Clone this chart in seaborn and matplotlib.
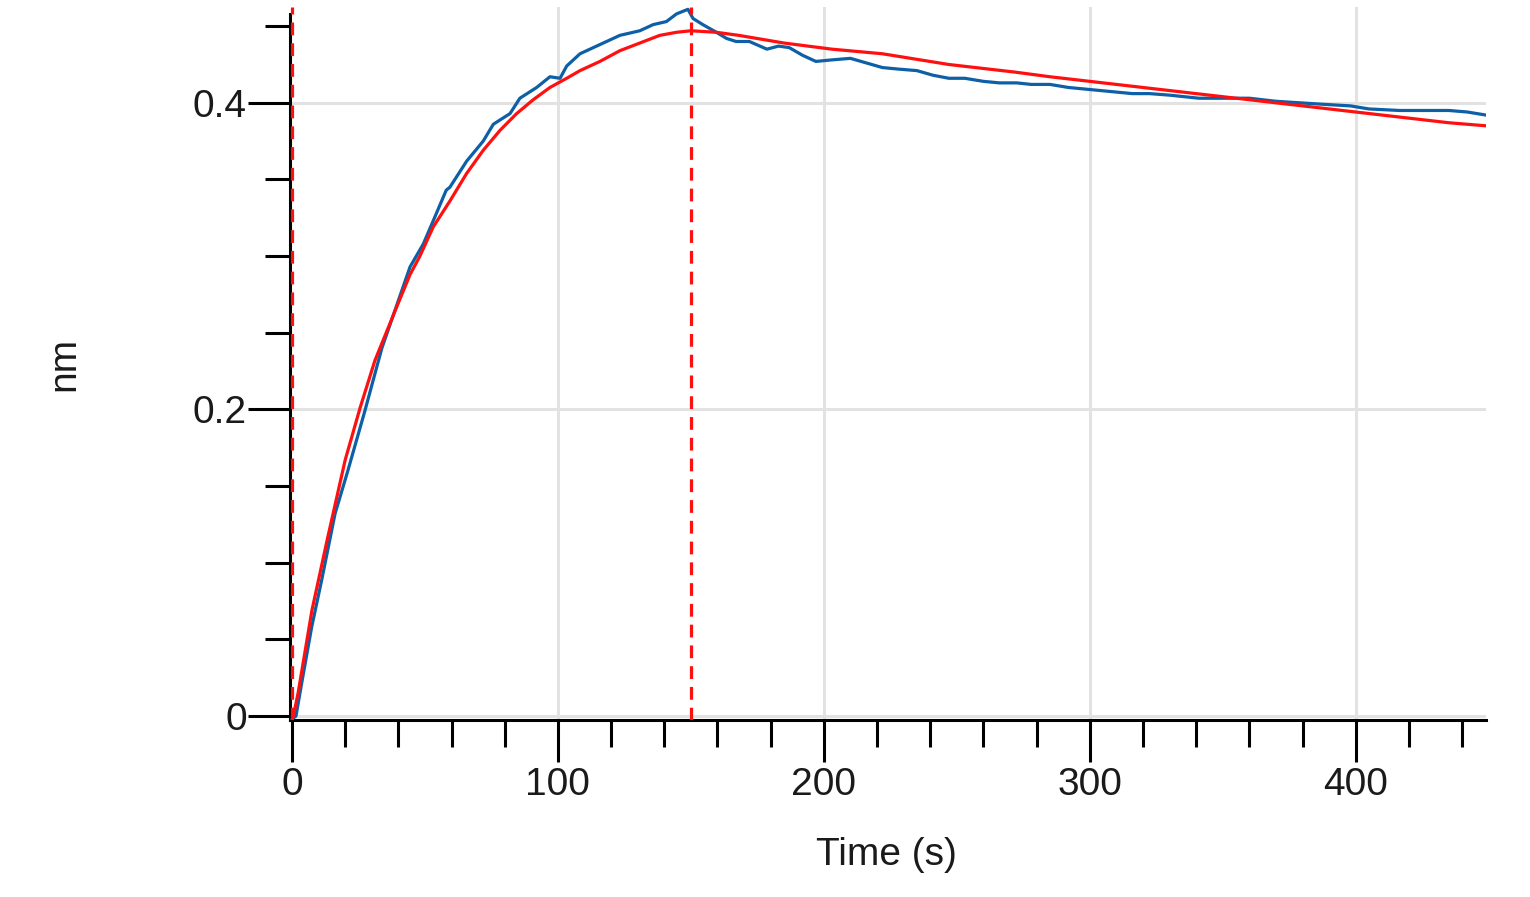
import numpy as np
import pandas as pd
import matplotlib
matplotlib.use("Agg")
import matplotlib.pyplot as plt
import seaborn as sns
from matplotlib.ticker import MultipleLocator, FixedLocator, FuncFormatter

# ---------------- data ----------------
blue_time = [0, 1.5, 3.6, 7.4, 11.2, 16.2, 21, 27.4, 33.8, 40, 44.4, 49.4, 53.1, 58,
             59.4, 65.7, 71.9, 75.7, 82, 85.7, 92, 97, 100.8, 103.3, 108.3, 115.8,
             123.3, 130.8, 135.8, 140.8, 144.6, 148.9, 150.8, 154.5, 159.6, 163.4,
             167, 172, 178.6, 183, 187, 192, 197, 203, 210, 216, 222, 228, 235, 241,
             247, 253, 260, 266, 272.5, 278, 285, 292, 298, 304, 310, 316, 322.5, 330,
             341, 350, 360, 370, 379, 388, 398, 405, 416.5, 425, 435, 442, 449]
blue_signal = [-0.002, 0.000, 0.021, 0.058, 0.089, 0.132, 0.160, 0.199, 0.240, 0.271,
               0.293, 0.308, 0.323, 0.343, 0.345, 0.362, 0.375, 0.386, 0.393, 0.403,
               0.410, 0.417, 0.416, 0.424, 0.432, 0.438, 0.444, 0.447, 0.451, 0.453,
               0.458, 0.461, 0.455, 0.451, 0.446, 0.442, 0.440, 0.440, 0.435, 0.437,
               0.436, 0.431, 0.427, 0.428, 0.429, 0.426, 0.423, 0.422, 0.421, 0.418,
               0.416, 0.416, 0.414, 0.413, 0.413, 0.412, 0.412, 0.410, 0.409, 0.408,
               0.407, 0.406, 0.406, 0.405, 0.403, 0.403, 0.403, 0.401, 0.400, 0.399,
               0.398, 0.396, 0.395, 0.395, 0.395, 0.394, 0.392]

fit_time = [0.5, 2.3, 7.5, 13.5, 20, 25.6, 31.2, 38.7, 44.4, 48.1, 53.1, 59.4, 65.7,
            71.9, 78.2, 84.5, 90.7, 97, 103.3, 108.3, 115.8, 123.3, 130.8, 138.3,
            144.6, 150, 159.6, 168, 185, 203, 222, 247, 272, 285, 310, 335, 360, 385,
            410, 435, 449]
fit_signal = [0.000, 0.015, 0.069, 0.117, 0.167, 0.201, 0.232, 0.264, 0.288, 0.300,
              0.319, 0.336, 0.354, 0.369, 0.382, 0.393, 0.402, 0.410, 0.416, 0.421,
              0.427, 0.434, 0.439, 0.444, 0.446, 0.447, 0.446, 0.444, 0.439, 0.435,
              0.432, 0.425, 0.420, 0.417, 0.412, 0.407, 0.402, 0.397, 0.392, 0.387,
              0.385]

step_times = [0, 150]          # association start / dissociation start
x_major = [0, 100, 200, 300, 400]
y_major = [0, 0.2, 0.4]
x_label = "Time (s)"
y_label = "nm"

# ---------------- styling ----------------
sns.set_theme(style="white")
plt.rcParams["font.family"] = ["Liberation Sans", "DejaVu Sans"]

BLUE = "#0d5fa6"
RED = "#ff1010"
GRID = "#e2e2e2"
TXT = "#1a1a1a"

fig = plt.figure(figsize=(15.3, 8.97), dpi=100)
ax = fig.add_axes([290 / 1530, 1 - 720 / 897, (1486 - 290) / 1530, (720 - 7) / 897])

blue_df = pd.DataFrame({"t": blue_time, "v": blue_signal})
fit_df = pd.DataFrame({"t": fit_time, "v": fit_signal})

sns.lineplot(data=blue_df, x="t", y="v", ax=ax, color=BLUE, lw=2.3,
             sort=False, estimator=None, zorder=3)
sns.lineplot(data=fit_df, x="t", y="v", ax=ax, color=RED, lw=2.3,
             sort=False, estimator=None, zorder=4)
for st in step_times:
    ax.axvline(st, color=RED, lw=2.3, linestyle=(0, (4, 2.5)), zorder=5)

ymin, ymax = -0.0026, 0.4625
ax.set_xlim(-0.75, 449)
ax.set_ylim(ymin, ymax)

# grid
for gx in x_major[1:]:
    ax.axvline(gx, color=GRID, lw=2.2, zorder=1)
for gy in y_major:
    ax.axhline(gy, color=GRID, lw=2.2, zorder=1)

# spines
for s in ["top", "right"]:
    ax.spines[s].set_visible(False)
for s in ["left", "bottom"]:
    ax.spines[s].set_color("black")
    ax.spines[s].set_linewidth(2.2)
ax.spines["left"].set_bounds(ymin, 0.458)

# ticks
ax.xaxis.set_major_locator(FixedLocator(x_major))
ax.xaxis.set_minor_locator(MultipleLocator(20))
ax.yaxis.set_major_locator(FixedLocator(y_major))
ax.yaxis.set_minor_locator(MultipleLocator(0.05))
ax.yaxis.set_major_formatter(FuncFormatter(lambda v, p: "0" if abs(v) < 1e-9 else f"{v:.1f}"))
ax.xaxis.set_major_formatter(FuncFormatter(lambda v, p: f"{v:.0f}"))

ax.tick_params(axis="x", which="major", direction="out", length=30, width=2.2,
               color="black", labelsize=28, labelcolor=TXT, pad=4, bottom=True)
ax.tick_params(axis="x", which="minor", direction="out", length=19.5, width=2.2,
               color="black", bottom=True)
ax.tick_params(axis="y", which="major", direction="out", length=30, width=2.2,
               color="black", labelsize=28, labelcolor=TXT, pad=1, left=True)
ax.tick_params(axis="y", which="minor", direction="out", length=18, width=2.2,
               color="black", left=True)
ax.grid(False)

# labels
ax.set_xlabel(x_label, fontsize=28, color=TXT)
ax.set_ylabel(y_label, fontsize=28, color=TXT)
ax.xaxis.label.set_verticalalignment("center")
ax.yaxis.label.set_verticalalignment("center")
ax.xaxis.set_label_coords((886 - 290) / 1196, (720 - 855) / 713)
ax.yaxis.set_label_coords((64 - 290) / 1196, 0.5)

fig.savefig("out.png", dpi=100, facecolor="white")
